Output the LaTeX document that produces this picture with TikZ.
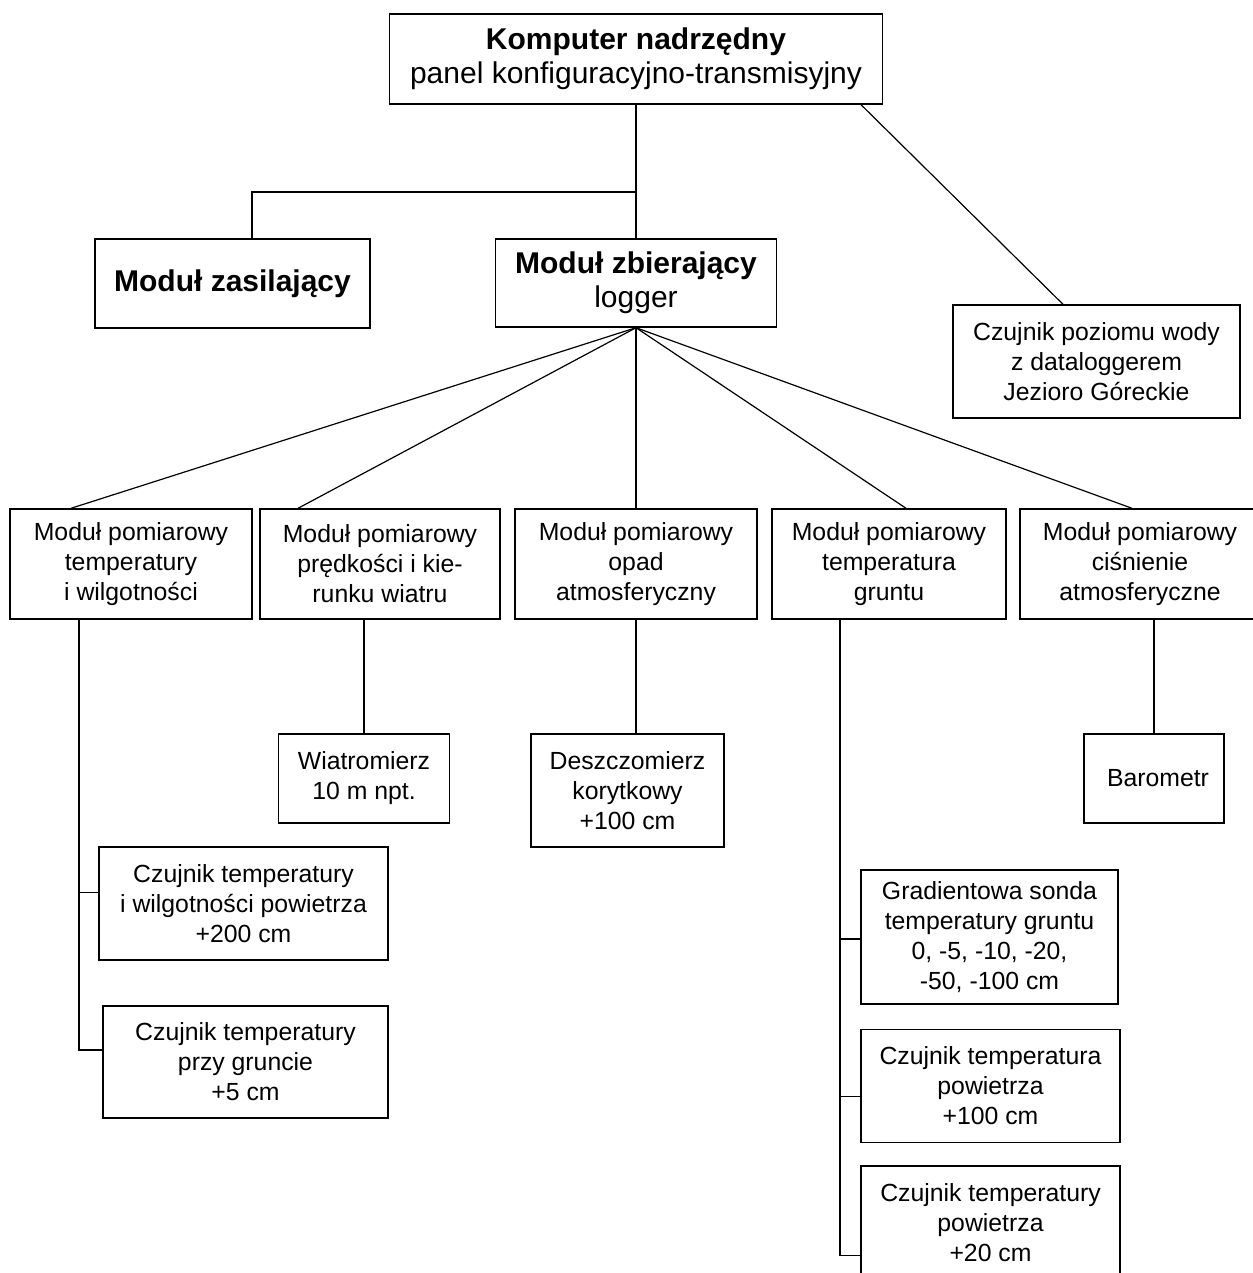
\documentclass[tikz,border=0pt]{standalone}
\usepackage{fontspec}
\setmainfont{Liberation Sans}
\usetikzlibrary{positioning}

\begin{document}
\begin{tikzpicture}[x=0.5pt,y=-0.5pt,-,semithick]
	\tikzstyle{box}=[draw=black, fill=white, text=black, align=center, inner sep=0pt, line width=0.7pt]
	\tikzstyle{big}=[box, font=\fontsize{15}{17}\selectfont]
	\tikzstyle{small}=[box, font=\fontsize{12.4}{15}\selectfont]
	\useasboundingbox[fill=white] (0,0) rectangle (1252,1273);

	% gora
	\node[big, minimum width=246.5pt, minimum height=45pt] (komp) at (636,59)
		{\textbf{Komputer nadrzędny}\\panel konfiguracyjno-transmisyjny};
	\node[big, minimum width=137.5pt, minimum height=44.5pt] (zas) at (232.5,283.5)
		{\textbf{Moduł zasilający}};
	\node[big, minimum width=140.5pt, minimum height=44pt] (zb) at (636,283)
		{\textbf{Moduł zbierający}\\logger};
	\node[small, minimum width=143.5pt, minimum height=56.5pt] (poz) at (1096.5,361.5)
		{Czujnik poziomu wody\\z dataloggerem\\Jezioro Góreckie};

	% moduly pomiarowe
	\node[small, minimum width=121pt, minimum height=55pt] (m1) at (131,564)
		{Moduł pomiarowy\\temperatury\\i wilgotności};
	\node[small, minimum width=120pt, minimum height=55pt] (m2) at (380,564)
		{Moduł pomiarowy\\prędkości i kie-\\runku wiatru};
	\node[small, minimum width=121pt, minimum height=55pt] (m3) at (636,564)
		{Moduł pomiarowy\\opad\\atmosferyczny};
	\node[small, minimum width=117pt, minimum height=55pt] (m4) at (889,564)
		{Moduł pomiarowy\\temperatura\\gruntu};
	\node[small, minimum width=120pt, minimum height=55pt] (m5) at (1140,564)
		{Moduł pomiarowy\\ciśnienie\\atmosferyczne};

	% czujniki
	\node[small, minimum width=85.5pt, minimum height=44.5pt] (wiatr) at (364,778.5)
		{Wiatromierz\\10 m npt.};
	\node[small, minimum width=96.5pt, minimum height=56.5pt] (deszcz) at (627.5,790.5)
		{Deszczomierz\\korytkowy\\+100 cm};
	\node[small, minimum width=70pt, minimum height=44.5pt] (baro) at (1154,778.5)
		{\hspace{4pt}Barometr};
	\node[small, minimum width=144.5pt, minimum height=56.5pt] (tw) at (243.5,903.5)
		{Czujnik temperatury\\i wilgotności powietrza\\+200 cm};
	\node[small, minimum width=142.5pt, minimum height=56pt] (grunt5) at (245.5,1062)
		{Czujnik temperatury\\przy gruncie\\+5 cm};
	\node[small, minimum width=128.5pt, minimum height=67pt] (grad) at (989.5,937)
		{Gradientowa sonda\\temperatury gruntu\\0, -5, -10, -20,\\-50, -100 cm};
	\node[small, minimum width=129.5pt, minimum height=56.5pt, below=12pt of grad.south west, anchor=north west] (pow100)
		{Czujnik temperatura\\powietrza\\+100 cm};
	\node[small, minimum width=129.5pt, minimum height=56.5pt, below=11pt of pow100.south west, anchor=north west] (pow20)
		{Czujnik temperatury\\powietrza\\+20 cm};

	% polaczenia
	\coordinate (split) at (636,192);
	\draw (komp.south) -- (zb.north);
	\draw (split) -| ([xshift=9.75pt]zas.north);
	\draw ([xshift=112.5pt]komp.south) -- ([xshift=-16.75pt]poz.north);

	\path
		(zb.south) edge ([xshift=-30pt]m1.north)
		(zb.south) edge ([xshift=-41pt]m2.north)
		(zb.south) edge (m3.north)
		(zb.south) edge ([xshift=8.5pt]m4.north)
		(zb.south) edge ([xshift=-4pt]m5.north);

	\draw ([xshift=-8pt]m2.south) -- (wiatr.north);
	\draw (m3.south) -- (m3.south |- deszcz.north);
	\draw (baro.north) -- (baro.north |- m5.south);

	\draw ([xshift=-26pt]m1.south) |- ([yshift=6pt]grunt5.west);
	\draw ([yshift=5.5pt]tw.west) -| ([xshift=-26pt]m1.south);

	\draw ([xshift=-24.5pt]m4.south) |- ([yshift=-16.75pt]pow20.west);
	\draw ([yshift=-1pt]grad.west) -| ([xshift=-24.5pt]m4.south);
	\draw ([yshift=-5.25pt]pow100.west) -| ([xshift=-24.5pt]m4.south);
\end{tikzpicture}
\end{document}
